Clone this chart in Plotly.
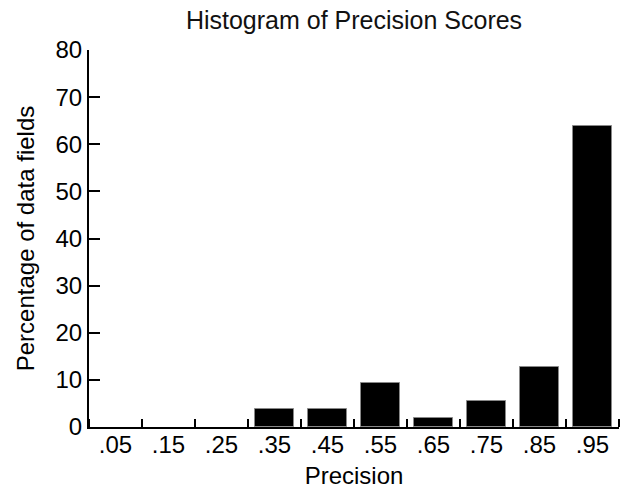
import plotly.graph_objects as go

bins = [0.05, 0.15, 0.25, 0.35, 0.45, 0.55, 0.65, 0.75, 0.85, 0.95]
tick_labels = [".05", ".15", ".25", ".35", ".45", ".55", ".65", ".75", ".85", ".95"]
percentages = [0, 0, 0, 3.76, 3.72, 9.28, 1.85, 5.52, 12.8, 63.9]

FONT = "Liberation Sans, Arial, sans-serif"

edge_widths = [1 if v > 0 else 0 for v in percentages]

fig = go.Figure()
fig.add_trace(go.Bar(
    x=bins, y=percentages, width=0.074,
    marker=dict(color="black", line=dict(color="#888888", width=edge_widths)),
))

fig.update_layout(
    width=624, height=497,
    margin=dict(l=89, r=5, t=50, b=70),
    plot_bgcolor="white", paper_bgcolor="white",
    showlegend=False,
    font=dict(family=FONT, size=24, color="black"),
    title=dict(text="Histogram of Precision Scores", x=0.5, xanchor="center",
               xref="paper", y=1 - 20 / 497, yanchor="middle",
               font=dict(size=25, color="#111111")),
    bargap=0,
)
fig.update_xaxes(
    range=[0, 1], tickmode="array", tickvals=bins, ticktext=tick_labels,
    ticks="", showgrid=False, zeroline=False,
    showline=True, linecolor="black", linewidth=2,
    minor=dict(tickmode="linear", tick0=0, dtick=0.1, ticks="inside",
               ticklen=8, tickwidth=2, tickcolor="black", showgrid=False),
    ticklabelstandoff=-5,
    title=dict(text="Precision", standoff=10, font=dict(size=24)),
    tickfont=dict(size=24),
)
fig.update_yaxes(
    range=[0, 80], tickmode="linear", tick0=0, dtick=10,
    ticks="inside", ticklen=11, tickwidth=2, tickcolor="black",
    showgrid=False, zeroline=False,
    showline=True, linecolor="black", linewidth=2,
    title=dict(text="Percentage of data fields", standoff=14, font=dict(size=24)),
    tickfont=dict(size=24),
)

fig.write_html("out.html")
